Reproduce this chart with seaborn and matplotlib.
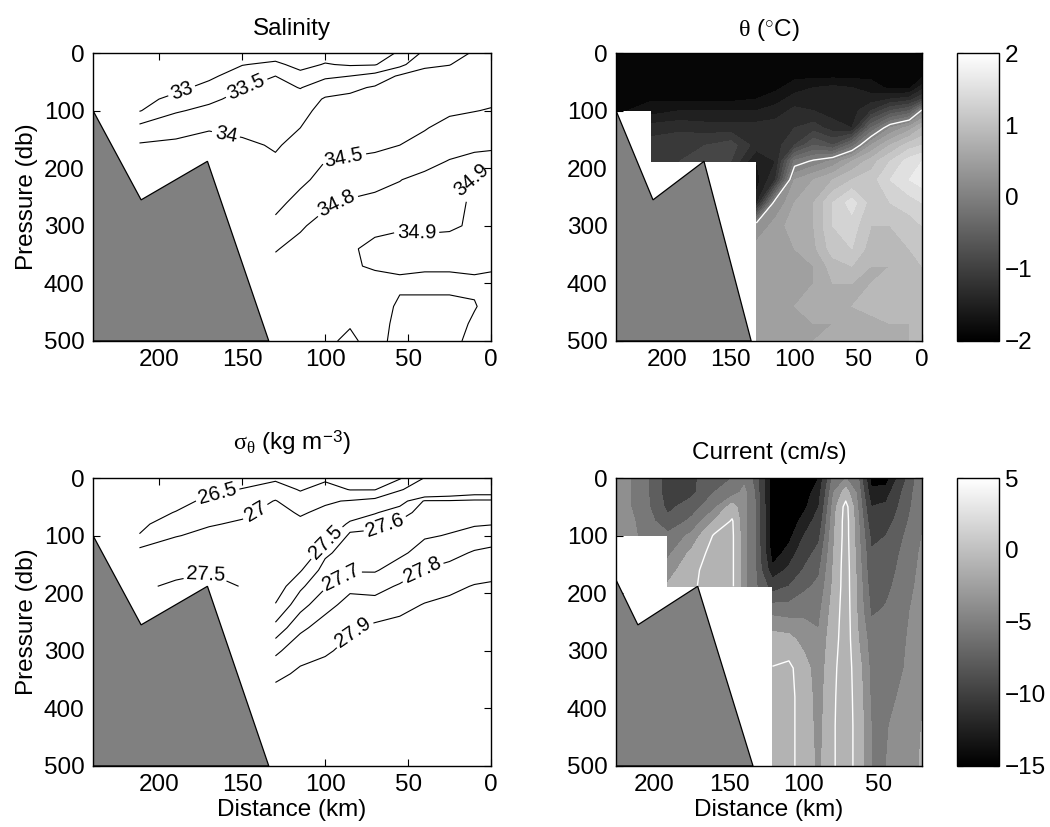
import numpy as np
import matplotlib
matplotlib.use("Agg")
import matplotlib.pyplot as plt
import seaborn as sns
from matplotlib.colors import Normalize
from matplotlib.cm import ScalarMappable

# ---------------- data ----------------
N = None
# hydrographic stations (km) and pressure levels (db)
distance = [240, 212, 190, 170, 150, 130, 115, 100, 85, 70, 55, 40, 25, 10, 0]
pressure = [0, 20, 40, 60, 80, 100, 130, 160, 188, 220, 260, 300, 340, 370, 400, 440, 470, 500]

# salinity, one list per station (top to bottom)
salinity = [
    [N] * 18,
    [32.3, 32.4, 32.55, 32.7, 32.85, 32.97, 33.65, 34.05, 34.2] + [N] * 9,
    [32.4, 32.55, 32.7, 32.88, 33.13, 33.45, 33.82, 34.1, 34.25] + [N] * 9,
    [32.55, 32.7, 32.9, 33.15, 33.4, 33.62, 33.96, 34.18, 34.32] + [N] * 9,
    [32.8, 32.98, 33.25, 33.48, 33.65, 33.75, 33.9, 34.08, 34.25] + [N] * 9,
    [32.75, 33.1, 33.5, 33.66, 33.76, 33.83, 33.9, 33.96, 34.05, 34.22, 34.4, 34.59, 34.79, 34.84, 34.86, 34.87, 34.87, 34.88],
    [32.7, 32.85, 33.15, 33.48, 33.7, 33.86, 34.0, 34.12, 34.25, 34.42, 34.62, 34.78, 34.85, 34.87, 34.87, 34.88, 34.88, 34.88],
    [32.8, 33.03, 33.42, 33.75, 34.05, 34.15, 34.3, 34.4, 34.5, 34.62, 34.77, 34.86, 34.88, 34.885, 34.88, 34.885, 34.89, 34.895],
    [32.75, 32.95, 33.5, 33.9, 34.1, 34.22, 34.33, 34.43, 34.53, 34.67, 34.83, 34.87, 34.895, 34.895, 34.885, 34.89, 34.898, 34.905],
    [32.8, 32.97, 33.68, 34.05, 34.15, 34.24, 34.35, 34.45, 34.56, 34.74, 34.85, 34.89, 34.91, 34.905, 34.885, 34.885, 34.885, 34.89],
    [33.05, 33.35, 34.07, 34.15, 34.22, 34.3, 34.4, 34.5, 34.64, 34.795, 34.86, 34.895, 34.915, 34.905, 34.895, 34.905, 34.91, 34.91],
    [33.6, 33.95, 34.1, 34.2, 34.28, 34.36, 34.48, 34.6, 34.74, 34.85, 34.88, 34.89, 34.92, 34.905, 34.89, 34.91, 34.92, 34.915],
    [33.8, 33.99, 34.15, 34.25, 34.35, 34.45, 34.6, 34.72, 34.81, 34.86, 34.88, 34.895, 34.915, 34.905, 34.89, 34.91, 34.915, 34.91],
    [34.05, 34.15, 34.25, 34.33, 34.42, 34.49, 34.65, 34.76, 34.85, 34.905, 34.91, 34.905, 34.91, 34.905, 34.895, 34.902, 34.895, 34.89],
    [34.15, 34.2, 34.28, 34.36, 34.44, 34.52, 34.66, 34.78, 34.84, 34.905, 34.91, 34.905, 34.91, 34.905, 34.89, 34.89, 34.89, 34.89],
]
salinity_levels = [33, 33.5, 34, 34.5, 34.8, 34.9]

# potential temperature (deg C)
theta = [
    [-1.85] * 6 + [N] * 12,
    [-1.85, -1.85, -1.85, -1.85, -1.82, -1.7, -1.3, -1.1, -1.0] + [N] * 9,
    [-1.85, -1.85, -1.85, -1.85, -1.85, -1.6, -1.25, -1.05, -1.0] + [N] * 9,
    [-1.85, -1.85, -1.85, -1.85, -1.85, -1.6, -1.3, -1.0, -0.95] + [N] * 9,
    [-1.85, -1.85, -1.85, -1.85, -1.85, -1.6, -1.3, -0.9, -1.0] + [N] * 9,
    [-1.85, -1.85, -1.85, -1.85, -1.8, -1.6, -1.3, -1.3, -1.6, -1.7, -1.5, 0.2, 0.5, 0.6, 0.5, 0.55, 0.5, 0.5],
    [-1.85, -1.85, -1.85, -1.85, -1.7, -1.5, -1.3, -1.3, -1.4, -1.2, 0.2, 0.5, 0.6, 0.5, 0.5, 0.6, 0.5, 0.5],
    [-1.85, -1.85, -1.85, -1.7, -1.5, -1.35, -1.2, -1.0, -0.15, 0.4, 0.6, 0.7, 0.6, 0.55, 0.6, 0.6, 0.55, 0.5],
    [-1.85, -1.85, -1.85, -1.6, -1.4, -1.4, -1.1, -0.6, 0.05, 0.6, 0.8, 0.8, 0.75, 0.6, 0.6, 0.7, 0.6, 0.6],
    [-1.85, -1.85, -1.85, -1.55, -1.5, -1.5, -1.3, -0.8, 0.25, 0.8, 1.2, 1.2, 1.1, 0.9, 0.8, 0.7, 0.6, 0.7],
    [-1.85, -1.85, -1.85, -1.6, -1.55, -1.5, -1.4, -0.3, 0.6, 1.0, 1.5, 1.3, 1.2, 1.0, 0.8, 0.8, 0.7, 0.7],
    [-1.85, -1.85, -1.85, -1.7, -1.5, -1.2, -0.4, 0.4, 0.9, 1.1, 1.1, 1.0, 0.9, 0.8, 0.8, 0.9, 0.7, 0.7],
    [-1.85, -1.85, -1.85, -1.85, -1.4, -0.8, 0.2, 0.8, 1.2, 1.4, 1.2, 1.0, 0.9, 0.8, 0.85, 0.9, 0.8, 0.7],
    [-1.85, -1.85, -1.85, -1.85, -1.3, -0.6, 0.5, 1.1, 1.5, 1.6, 1.3, 1.1, 1.0, 0.9, 0.9, 0.9, 0.8, 0.8],
    [-1.85, -1.85, -1.85, -1.5, -1.0, 0.05, 0.8, 1.2, 1.6, 1.7, 1.4, 1.2, 1.1, 1.0, 1.0, 0.9, 0.9, 0.9],
]

# potential density anomaly sigma-theta (kg m^-3)
sigma = [
    [N] * 18,
    [26.0, 26.1, 26.2, 26.3, 26.4, 26.52, 27.2, 27.35, 27.45] + [N] * 9,
    [26.1, 26.22, 26.35, 26.52, 26.75, 26.98, 27.25, 27.42, 27.55] + [N] * 9,
    [26.2, 26.38, 26.6, 26.8, 26.97, 27.1, 27.3, 27.48, 27.58] + [N] * 9,
    [26.3, 26.52, 26.75, 26.93, 27.05, 27.15, 27.3, 27.42, 27.49] + [N] * 9,
    [26.4, 26.75, 27.02, 27.12, 27.2, 27.26, 27.33, 27.39, 27.44, 27.505, 27.63, 27.78, 27.87, 27.93, 27.95, 27.96, 27.97, 27.97],
    [26.35, 26.46, 26.75, 26.96, 27.08, 27.2, 27.36, 27.49, 27.58, 27.66, 27.78, 27.86, 27.92, 27.94, 27.95, 27.96, 27.97, 27.97],
    [26.4, 26.7, 26.95, 27.08, 27.25, 27.45, 27.58, 27.64, 27.69, 27.77, 27.84, 27.89, 27.93, 27.945, 27.95, 27.96, 27.97, 27.97],
    [26.3, 26.48, 27.03, 27.35, 27.55, 27.62, 27.65, 27.69, 27.78, 27.83, 27.89, 27.92, 27.94, 27.95, 27.955, 27.96, 27.97, 27.97],
    [26.3, 26.48, 27.15, 27.49, 27.58, 27.62, 27.65, 27.69, 27.77, 27.83, 27.92, 27.94, 27.95, 27.955, 27.96, 27.965, 27.97, 27.97],
    [26.45, 26.95, 27.45, 27.56, 27.62, 27.65, 27.68, 27.75, 27.81, 27.87, 27.93, 27.95, 27.955, 27.96, 27.965, 27.97, 27.97, 27.97],
    [27.02, 27.3, 27.61, 27.64, 27.67, 27.69, 27.74, 27.805, 27.85, 27.905, 27.94, 27.95, 27.955, 27.96, 27.965, 27.97, 27.97, 27.97],
    [27.01, 27.35, 27.61, 27.65, 27.68, 27.705, 27.77, 27.83, 27.88, 27.92, 27.945, 27.95, 27.955, 27.96, 27.965, 27.97, 27.97, 27.97],
    [27.05, 27.4, 27.62, 27.66, 27.69, 27.74, 27.81, 27.86, 27.905, 27.93, 27.945, 27.95, 27.955, 27.96, 27.965, 27.97, 27.97, 27.97],
    [27.05, 27.4, 27.62, 27.66, 27.695, 27.76, 27.82, 27.875, 27.91, 27.935, 27.95, 27.955, 27.96, 27.965, 27.97, 27.97, 27.97, 27.97],
]
sigma_levels = [26.5, 27, 27.5, 27.6, 27.7, 27.8, 27.9]

# current section (ADCP stations, km) and depth bins (db)
current_distance = [225.6, 208, 191, 175, 160, 148, 140, 133, 121, 110, 100, 90, 80, 72, 64, 55, 45, 33, 21]
current_pressure = [0, 25, 50, 75, 100, 130, 160, 188, 230, 280, 330, 380, 430, 500]
current = [
    [-3.2, -3.2, -3.2, -3.2, -3.2] + [N] * 9,
    [-5.5, -5.5, -5.5, -5.0, -4.8] + [N] * 9,
    [-9.5, -9.5, -9.0, -8.0, -6.0, -5.0, -3.5, -2.2] + [N] * 6,
    [-9.0, -9.0, -7.5, -6.0, -4.0, -2.0, -0.8, -0.5] + [N] * 6,
    [-7.0, -6.5, -5.0, -2.3, 0.3, 1.2, 1.5, 1.5] + [N] * 6,
    [-6.5, -5.5, -1.5, 0.3, 0.5, 0.5, 0.5, 0.5] + [N] * 6,
    [-5.0, -4.0, -4.0, -4.0, -4.0, -4.0, -4.0, -4.0] + [N] * 6,
    [-7.0, -6.5, -6.0, -6.0, -6.0, -6.0, -6.0, -6.0] + [N] * 6,
    [-14.0, -14.5, -14.5, -14.5, -14.5, -14.0, -12.5, -9.5, -5.2, -1.5, 0.1, 0.5, 0.5, 0.5],
    [-14.5, -14.5, -14.5, -14.5, -13.6, -12.3, -10.5, -8.5, -5.5, -1.8, 0.6, 0.8, 0.8, 0.8],
    [-14.5, -14.2, -13.5, -12.2, -11.0, -9.5, -8.3, -7.0, -5.0, -3.3, -1.5, -1.2, -1.2, -1.2],
    [-13.0, -11.8, -11.0, -10.0, -9.0, -7.8, -6.8, -6.0, -5.0, -4.2, -3.8, -3.5, -3.3, -3.0],
    [-5.5, -4.5, -3.5, -3.0, -2.8, -2.45, -2.2, -2.0, -1.5, -1.0, -0.5, -0.3, -0.2, -0.2],
    [-4.5, -1.5, 1.0, 1.2, 1.2, 1.3, 1.4, 1.4, 1.5, 1.5, 1.5, 1.5, 1.5, 1.5],
    [-6.0, -5.0, -4.5, -4.0, -3.8, -3.5, -3.2, -3.0, -2.8, -2.3, -1.5, -1.2, -1.0, -1.0],
    [-13.8, -12.5, -11.0, -10.0, -9.0, -8.3, -8.0, -7.5, -6.8, -5.5, -5.0, -4.8, -4.5, -4.5],
    [-14.0, -12.0, -10.5, -9.5, -8.5, -8.0, -7.5, -7.0, -6.3, -5.5, -5.0, -4.8, -4.6, -4.5],
    [-9.0, -8.0, -7.5, -7.0, -6.5, -6.0, -5.7, -5.5, -5.0, -4.7, -4.5, -4.3, -4.0, -3.5],
    [-5.0, -5.0, -5.0, -4.8, -4.5, -4.2, -4.0, -3.8, -3.5, -3.3, -3.0, -2.8, -2.45, -2.3],
]
current_band_edges = [-16, -13, -11, -8.5, -6.5, -4.5, -2.5, 6]
current_band_values = [-15, -12.4, -10, -7.6, -5.6, -3.8, -1.0]

# bottom topography
topo_distance = [240, 211, 171, 134, 240]
topo_pressure = [100, 255, 188, 500, 500]

# ---------------- style ----------------
sns.set_style("ticks")
plt.rcParams['font.family'] = ['Liberation Sans', 'DejaVu Sans']
plt.rcParams['mathtext.fontset'] = 'custom'
plt.rcParams['mathtext.rm'] = 'Liberation Sans'
plt.rcParams['mathtext.it'] = 'Liberation Serif'
plt.rcParams['mathtext.bf'] = 'Liberation Sans:bold'
plt.rcParams['axes.linewidth'] = 1.0
plt.rcParams['axes.edgecolor'] = 'black'
plt.rcParams['text.color'] = 'black'
plt.rcParams['axes.labelcolor'] = 'black'
plt.rcParams['xtick.color'] = 'black'
plt.rcParams['ytick.color'] = 'black'

FS = 17.5


def grid(cols):
    return np.ma.masked_invalid(np.array(cols, dtype=float).T)


def style_axes(ax, xlim, xticks, xlabel=None, ylabel=True):
    ax.set_xlim(*xlim)
    ax.set_ylim(500, 0)
    ax.set_xticks(xticks)
    ax.set_yticks([0, 100, 200, 300, 400, 500])
    ax.tick_params(direction='in', top=True, right=True, length=5, width=0.8,
                   labelsize=FS, colors='black', pad=6)
    if ylabel:
        ax.set_ylabel('Pressure (db)', fontsize=FS, labelpad=4)
    if xlabel:
        ax.set_xlabel(xlabel, fontsize=FS, labelpad=2)
    ax.fill(topo_distance, topo_pressure, facecolor='0.5', edgecolor='black',
            linewidth=0.9, zorder=5)
    for s in ax.spines.values():
        s.set_zorder(6)


fig = plt.figure(figsize=(10.5, 8.27), dpi=100)
fig.patch.set_facecolor('white')

posS = [0.0886, 0.5877, 0.379, 0.3482]
posT = [0.5867, 0.5877, 0.2914, 0.3482]
posD = [0.0886, 0.0738, 0.379, 0.3482]
posU = [0.5867, 0.0738, 0.2914, 0.3482]
posCT = [0.9114, 0.5877, 0.04, 0.3482]
posCU = [0.9114, 0.0738, 0.04, 0.3482]

X, Y = np.meshgrid(distance, pressure)

# --- Salinity ---
ax = fig.add_axes(posS)
S = grid(salinity)
cs = ax.contour(X, Y, S, levels=salinity_levels, colors='black', linewidths=0.8,
                corner_mask=False)
ax.clabel(cs, fmt='%g', fontsize=14.5, inline=True, inline_spacing=3,
          manual=[(186, 70), (147, 64), (160, 143), (89, 178), (93, 262),
                  (45, 318), (15, 215)])
style_axes(ax, (240, 0), [0, 50, 100, 150, 200])
ax.set_title('Salinity', fontsize=FS, pad=13)

# --- Theta ---
ax = fig.add_axes(posT)
T = grid(theta)
tnorm = Normalize(-2, 2)
ax.contourf(X, Y, T, levels=np.linspace(-2, 2, 21), cmap='gray', norm=tnorm,
            extend='both', corner_mask=False)
ax.contour(X, Y, T, levels=[0], colors='white', linewidths=1.0, corner_mask=False)
style_axes(ax, (240, 0), [0, 50, 100, 150, 200], ylabel=False)
ax.set_title(r'$\theta$ ($^{\circ}$C)', fontsize=FS, pad=12)
cax = fig.add_axes(posCT)
cb = fig.colorbar(ScalarMappable(norm=tnorm, cmap='gray'), cax=cax)
cb.set_ticks([-2, -1, 0, 1, 2])
cax.tick_params(direction='in', left=True, right=True, length=4, width=0.8,
                labelsize=FS, pad=4)
cb.outline.set_linewidth(1.0)

# --- Sigma-theta ---
ax = fig.add_axes(posD)
D = grid(sigma)
cs = ax.contour(X, Y, D, levels=sigma_levels, colors='black', linewidths=0.8,
                corner_mask=False)
ax.clabel(cs, fmt='%g', fontsize=14.5, inline=True, inline_spacing=3,
          manual=[(165, 28), (141, 64), (172, 168), (100, 110), (63, 87),
                  (92, 166), (42, 158), (83, 268)])
style_axes(ax, (240, 0), [0, 50, 100, 150, 200], xlabel='Distance (km)')
ax.set_title(r'$\sigma_{\theta}$ (kg m$^{-3}$)', fontsize=FS, pad=20)

# --- Current ---
ax = fig.add_axes(posU)
XC, YC = np.meshgrid(current_distance, current_pressure)
U = grid(current)
unorm = Normalize(-15, 5)
band_colors = plt.get_cmap('gray')(unorm(np.array(current_band_values)))
ax.contourf(XC, YC, U, levels=current_band_edges, colors=band_colors,
            corner_mask=False)
ax.contour(XC, YC, U, levels=[0], colors='white', linewidths=1.0, corner_mask=False)
style_axes(ax, (225.6, 21), [50, 100, 150, 200], xlabel='Distance (km)', ylabel=False)
ax.set_title('Current (cm/s)', fontsize=FS, pad=14)
cax = fig.add_axes(posCU)
cb = fig.colorbar(ScalarMappable(norm=unorm, cmap='gray'), cax=cax)
cb.set_ticks([-15, -10, -5, 0, 5])
cax.tick_params(direction='in', left=True, right=True, length=4, width=0.8,
                labelsize=FS, pad=4)
cb.outline.set_linewidth(1.0)

fig.savefig('out.png', dpi=100, facecolor='white')
